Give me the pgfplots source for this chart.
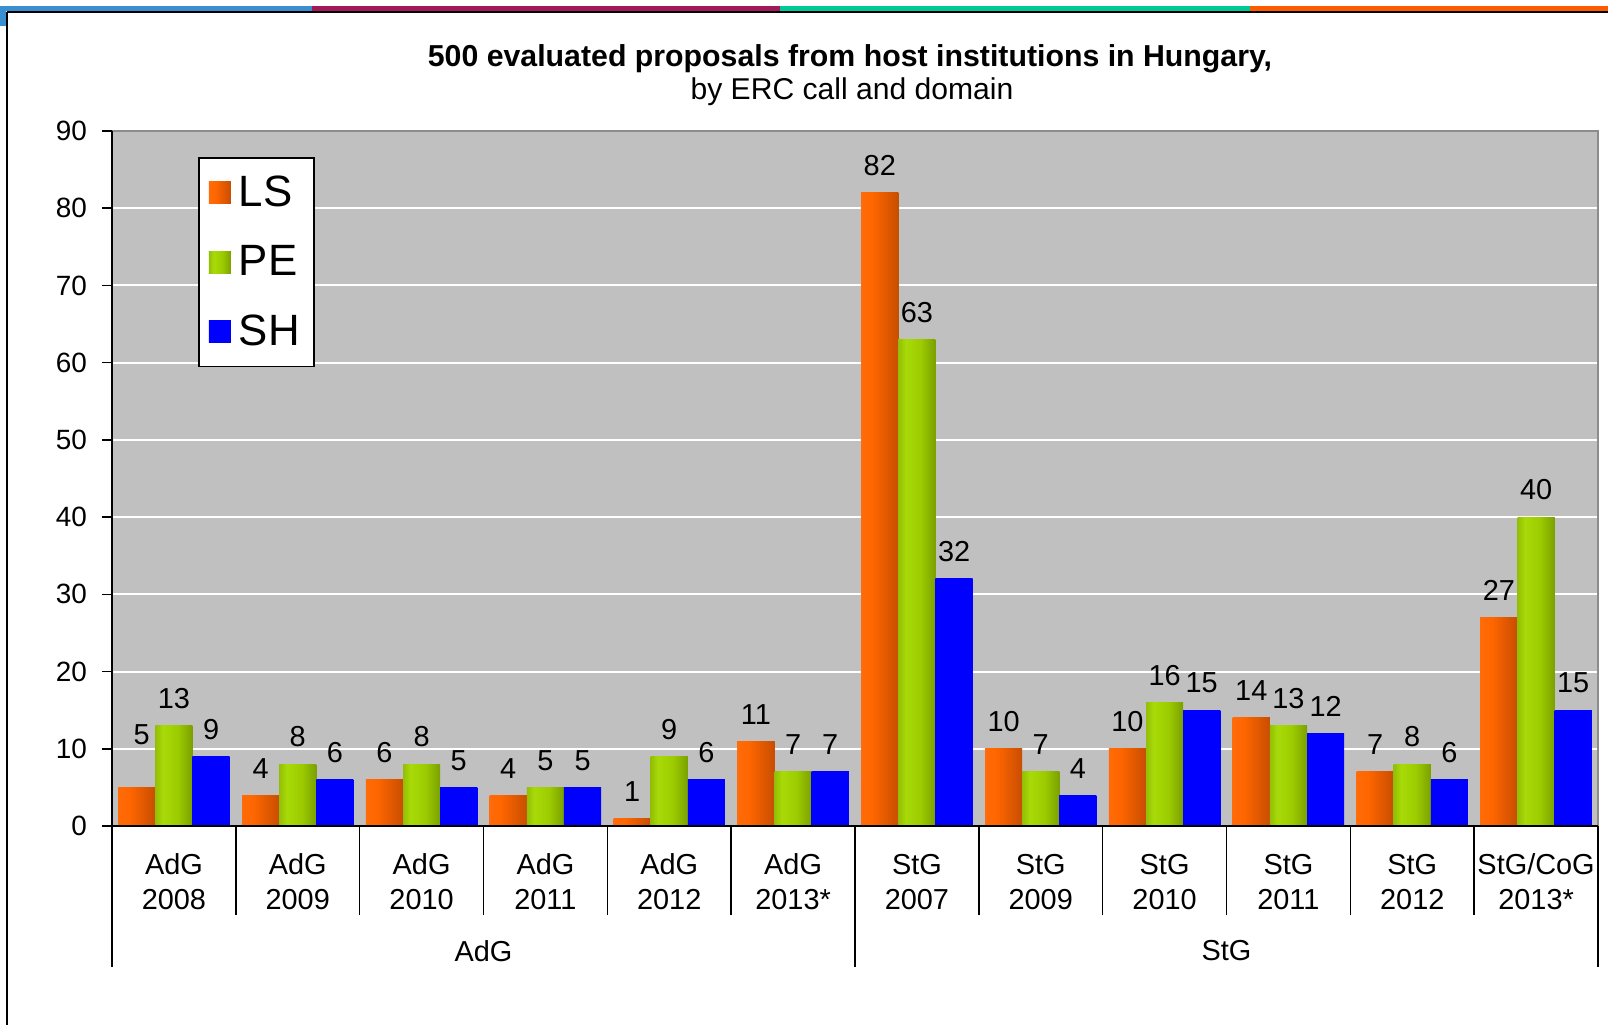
\documentclass[border=0pt]{standalone}
\usepackage{pgfplots}
\pgfplotsset{compat=1.18}
\usepackage{pgfplotstable}
\usepackage{fontspec}
\setmainfont{Liberation Sans}

\definecolor{plotbg}{HTML}{C0C0C0}
\definecolor{framegray}{HTML}{8C8C8C}
\definecolor{lsc}{HTML}{FF6600}
\definecolor{lsl}{HTML}{B84000}
\definecolor{lsb}{HTML}{FF7010}
\definecolor{lsr}{HTML}{A03C00}
\definecolor{pec}{HTML}{9CCC00}
\definecolor{ped}{HTML}{5E7A00}
\definecolor{peb}{HTML}{A8DA08}
\definecolor{per}{HTML}{506800}
\definecolor{shc}{HTML}{0000FF}
\definecolor{shd}{HTML}{0000C0}
\definecolor{stripblue}{HTML}{3A8FD0}
\definecolor{stripmag}{HTML}{A31A5C}
\definecolor{stripteal}{HTML}{00C896}
\definecolor{striporange}{HTML}{FF5A00}

\pgfdeclarehorizontalshading{lsshade}{100bp}{color(0bp)=(lsl); color(12bp)=(lsb); color(40bp)=(lsc); color(100bp)=(lsr)}
\pgfdeclarehorizontalshading{peshade}{100bp}{color(0bp)=(ped); color(35bp)=(peb); color(55bp)=(pec); color(100bp)=(per)}
\pgfdeclarehorizontalshading{shshade}{100bp}{color(0bp)=(shd); color(20bp)=(shc); color(80bp)=(shc); color(100bp)=(shd)}

% proposals per call: LS, PE, SH
\pgfplotstableread{
x LS PE SH
0  5 13  9
1  4  8  6
2  6  8  5
3  4  5  5
4  1  9  6
5 11  7  7
6 82 63 32
7 10  7  4
8 10 16 15
9 14 13 12
10 7  8  6
11 27 40 15
}\calls

\pgfplotsset{
  sq/.style={legend image code/.code={\path[##1] (0bp,-5.5bp) rectangle (11bp,5.5bp);}},
  lsbar/.style={draw=none, fill=lsc, shading=lsshade},
  pebar/.style={draw=none, fill=pec, shading=peshade},
  shbar/.style={draw=none, fill=shc, shading=shshade},
  only/.style={forget plot, x filter/.expression={abs(x-#1)<0.1 ? x : nan}},
}

\begin{document}
\begin{tikzpicture}
\begin{axis}[
  scale only axis, width=743bp, height=347.5bp,
  xmin=-0.5, xmax=11.5, ymin=0, ymax=90,
  ybar, bar width=0.3,
  axis background/.style={fill=plotbg},
  axis line style={draw=none},
  ytick={0,10,...,90}, ytick pos=left,
  ymajorgrids, major grid style={draw=white, line width=1bp},
  tick align=outside, major tick length=5bp,
  ytick style={draw=black, line width=0.8bp},
  xtick={0,...,11}, xtick style={draw=none},
  xticklabels={{AdG\\2008},{AdG\\2009},{AdG\\2010},{AdG\\2011},{AdG\\2012},{AdG\\2013*},
               {StG\\2007},{StG\\2009},{StG\\2010},{StG\\2011},{StG\\2012},{StG/CoG\\2013*}},
  xticklabel style={align=center, font=\fontsize{14.5}{17.5}\selectfont, yshift=-5.5bp},
  yticklabel style={font=\fontsize{14}{16}\selectfont, xshift=-4bp},
  /pgf/number format/assume math mode=true,
  clip=false,
  nodes near coords,
  every node near coord/.append style={font=\fontsize{14.5}{16}\selectfont, text=black, yshift=5bp},
  legend style={at={(rel axis cs:0.058,0.962)}, anchor=north west, draw=black,
    line width=0.8bp, fill=white, font=\fontsize{22}{26}\selectfont,
    row sep=14bp, inner xsep=5bp, inner ysep=7bp,
    /tikz/every odd column/.append style={column sep=2bp}},
  legend cell align=left,
]
% LS label of AdG 2008 sits higher in the original
\addplot[lsbar, bar shift=-0.3, only=0,
  every node near coord/.append style={yshift=13bp, xshift=2.5bp}] table[x=x, y=LS] {\calls};
\pgfplotsinvokeforeach{1,...,11}{
  \addplot[lsbar, bar shift=-0.3, only=#1] table[x=x, y=LS] {\calls};
}
\pgfplotsinvokeforeach{0,...,11}{
  \addplot[pebar, bar shift=0, only=#1] table[x=x, y=PE] {\calls};
  \addplot[shbar, bar shift=0.3, only=#1] table[x=x, y=SH] {\calls};
}
\addlegendimage{lsbar, sq}
\addlegendentry{LS}
\addlegendimage{pebar, sq}
\addlegendentry{PE}
\addlegendimage{shbar, sq}
\addlegendentry{SH}

% frame
\draw[framegray, line width=1bp] (rel axis cs:0,1) -- (rel axis cs:1,1) -- (rel axis cs:1,0);
\draw[black, line width=1bp] (rel axis cs:0,1) -- (rel axis cs:0,0) -- (rel axis cs:1,0);

% category separators
\pgfplotsinvokeforeach{0.5,1.5,2.5,3.5,4.5,6.5,7.5,8.5,9.5,10.5}{
  \draw[black, line width=0.8bp] (axis cs:#1,0) -- ++(0pt,-44.6bp);
}
\pgfplotsinvokeforeach{-0.5,5.5,11.5}{
  \draw[black, line width=0.8bp] (axis cs:#1,0) -- ++(0pt,-70.3bp);
}
\node[font=\fontsize{14.5}{17}\selectfont] at ([yshift=-62.5bp]axis cs:2.5,0) {AdG};
\node[font=\fontsize{14.5}{17}\selectfont] at ([yshift=-62.5bp]axis cs:8.5,0) {StG};

\coordinate (O) at (rel axis cs:0,0);
\end{axis}

\path[use as bounding box] ([shift={(-56bp,-99.5bp)}]O) rectangle ([shift={(748bp,413bp)}]O);

% title
\node[font=\fontsize{15.2}{17}\selectfont\bfseries] at ([shift={(369bp,383.5bp)}]O)
  {500 evaluated proposals from host institutions in Hungary,};
\node[font=\fontsize{15.1}{17}\selectfont] at ([shift={(370bp,367bp)}]O)
  {by ERC call and domain};

% slide decoration
\fill[stripblue]   ([shift={(-56bp,407.5bp)}]O) rectangle ([shift={(100bp,410bp)}]O);
\fill[stripmag]    ([shift={(100bp,407.5bp)}]O) rectangle ([shift={(334bp,410bp)}]O);
\fill[stripteal]   ([shift={(334bp,407.5bp)}]O) rectangle ([shift={(569bp,410bp)}]O);
\fill[striporange] ([shift={(569bp,407.5bp)}]O) rectangle ([shift={(748bp,410bp)}]O);
\fill[stripblue]   ([shift={(-56bp,400bp)}]O) rectangle ([shift={(-53bp,407.5bp)}]O);
\draw[black, line width=1bp] ([shift={(-52.5bp,407bp)}]O) -- ([shift={(748bp,407bp)}]O);
\draw[black, line width=1bp] ([shift={(-52.5bp,407bp)}]O) -- ([shift={(-52.5bp,-99.5bp)}]O);
\end{tikzpicture}
\end{document}
